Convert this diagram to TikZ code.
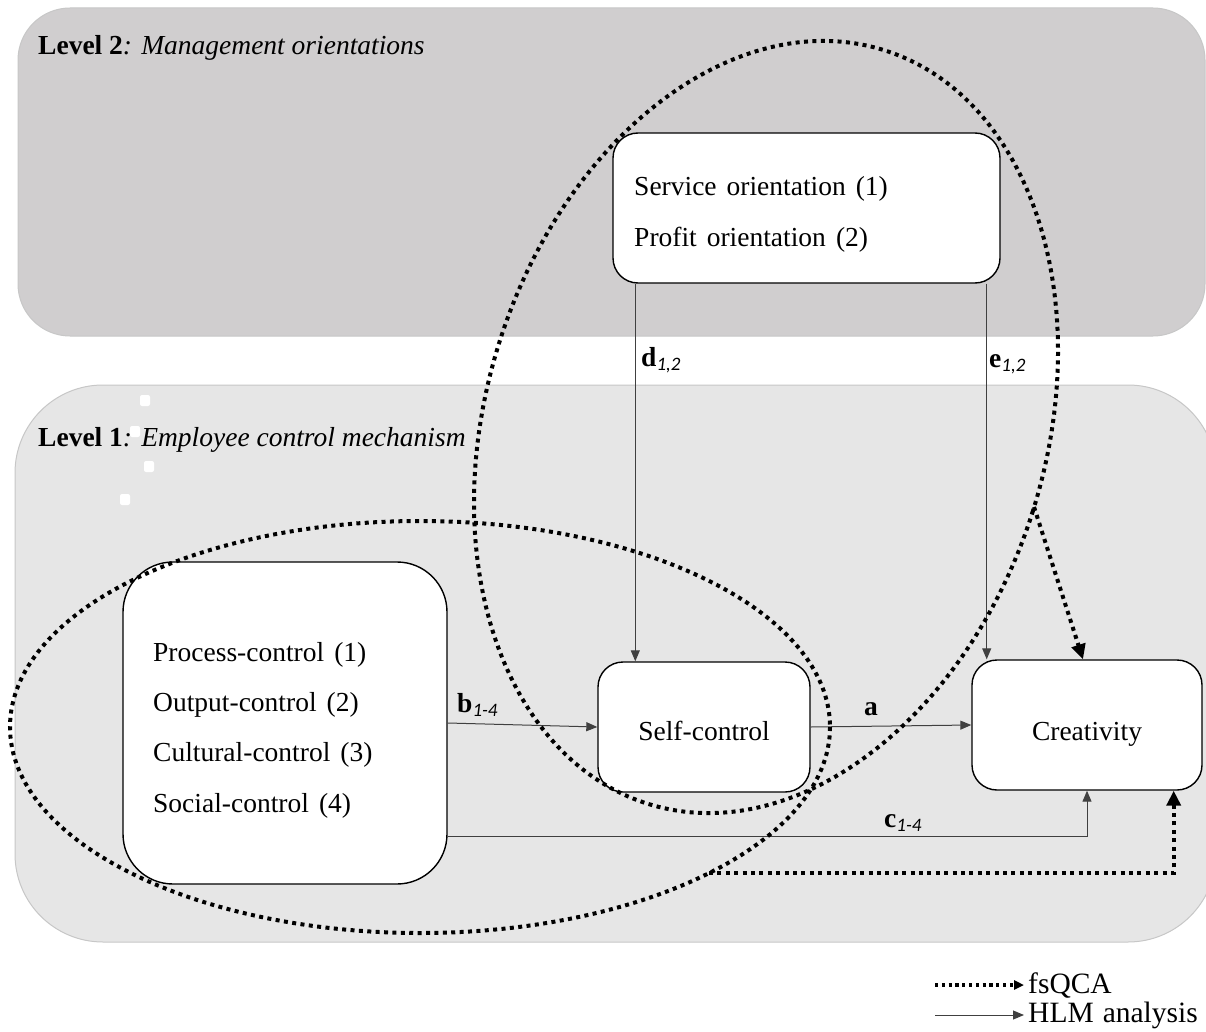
\documentclass[tikz,border=0pt]{standalone}
\usepackage{fontspec}
\setmainfont{Liberation Serif}
\newfontfamily\subfont{Carlito}
\usetikzlibrary{arrows.meta}
\definecolor{ltwo}{HTML}{D0CECF}
\definecolor{lone}{HTML}{E6E6E6}
\newcommand{\sbs}[1]{\raisebox{-4.5pt}{\subfont\itshape\fontsize{19}{20}\selectfont #1}}
\newcommand{\mainsz}{\fontsize{27.5}{33}\selectfont\spaceskip 10pt\relax}
\newcommand{\levsz}{\fontsize{27.5}{33}\selectfont\spaceskip 0pt\relax}
\newcommand{\legsz}{\fontsize{29.5}{33}\selectfont\spaceskip 9pt\relax}
\begin{document}
\begin{tikzpicture}[x=1pt,y=-1pt,
  font=\mainsz,
  panel/.style={draw=black!22, line width=1pt, rounded corners=#1},
  box/.style={draw=black, line width=1.4pt, fill=white, rounded corners=#1, inner sep=0pt},
  hlm/.style={draw=black!75, line width=1pt, -{Triangle[length=11pt,width=9pt]}},
  fs/.style={draw=black, line width=4pt, dash pattern=on 4pt off 4.4pt},
  fsarrow/.style={fs, -{Triangle[length=15pt,width=14pt]}},
  fslegend/.style={draw=black, line width=3.2pt, dash pattern=on 3.2pt off 3.6pt, -{Triangle[length=10pt,width=9pt]}},
  lbl/.style={inner sep=0pt, anchor=base west},
  levlbl/.style={lbl, font=\levsz},
  ctext/.style={inner sep=0pt, anchor=base},
  legtext/.style={inner sep=0pt, anchor=west, font=\legsz},
]
\useasboundingbox (0,0) rectangle (1206,1032);
% panels
\draw[panel=52pt, fill=ltwo] (18,8) rectangle (1205,336);
\draw[panel=88pt, fill=lone] (15,385) rectangle (1216,942);
% level labels
\node[levlbl] (lv2) at (38,55) {\textbf{Level 2}\textit{: Management orientations}};
\node[levlbl] (lv1) at (38,446) {\textbf{Level 1}\textit{: Employee control mechanism}};
\fill[white, rounded corners=2pt] (140,395) rectangle ++(10,11);
\fill[white, rounded corners=2pt] (130,426) rectangle ++(10,11);
\fill[white, rounded corners=2pt] (144,461) rectangle ++(10,11);
\fill[white, rounded corners=2pt] (120,494) rectangle ++(10,11);
% boxes
\node[box=25pt, minimum width=387pt, minimum height=150pt] (ori) at (806.5,208) {};
\node[lbl] (so) at (634,196) {Service orientation (1)};
\node[lbl] (po) at (634,247) {Profit orientation (2)};
\node[box=50pt, minimum width=324pt, minimum height=322pt] (ctrl) at (285,723) {};
\node[lbl] (pc) at (153,661) {Process-control (1)};
\node[lbl] (oc) at (153,711) {Output-control (2)};
\node[lbl] (cc) at (153,761) {Cultural-control (3)};
\node[lbl] (sc) at (153,812) {Social-control (4)};
\node[box=25pt, minimum width=212pt, minimum height=130pt] (self) at (704,727) {};
\node[ctext] (selft) at (704,740) {Self-control};
\node[box=25pt, minimum width=230pt, minimum height=130pt] (crea) at (1087,725) {};
\node[ctext] (creat) at (1087,740) {Creativity};
% HLM connectors
\coordinate (dtop) at ([xshift=23pt]ori.south west);
\draw[hlm] (dtop) -- (dtop |- self.north);
\coordinate (etop) at ([xshift=-14pt]ori.south east);
\draw[hlm] (etop) -- (etop |- crea.north);
\draw[hlm] (ctrl.east) -- (self.west);
\draw[hlm] (self.east) -- (crea.west);
\coordinate (cst) at ([yshift=-113pt]ctrl.east);
\draw[hlm] (cst) -| (crea.south);
% labels
\node[lbl] (dlab) at (641,366) {\textbf{d}\sbs{1,2}};
\node[lbl] (elab) at (989,367) {\textbf{e}\sbs{1,2}};
\node[lbl] (blab) at (457,712) {\textbf{b}\sbs{1-4}};
\node[lbl] (alab) at (864,715) {\textbf{a}};
\node[lbl] (clab) at (884,827) {\textbf{c}\sbs{1-4}};
% fsQCA ellipses
\draw[fs, rotate around={-17.4:(766,427)}] (766,427) ellipse (279.8 and 394.9);
\draw[fs] (420,727) ellipse (410 and 206);
\coordinate (vpt) at (1034,507);
\coordinate (cn) at ([xshift=-4pt]crea.north);
\draw[fsarrow] (vpt) -- (cn);
\coordinate (hpt) at (709,873);
\coordinate (cse) at ([xshift=-29pt]crea.south east);
\draw[fsarrow] (hpt) -| (cse);
% legend
\node[legtext] (lgfs) at (1028,985) {fsQCA};
\node[legtext] (lghlm) at (1028,1015) {HLM analysis};
\coordinate (lfa) at (935,985);
\coordinate (lha) at (935,1015);
\draw[fslegend] (lfa) -- ([xshift=-4pt]lgfs.west);
\draw[hlm] (lha) -- ([xshift=-4pt]lghlm.west);
\end{tikzpicture}
\end{document}
